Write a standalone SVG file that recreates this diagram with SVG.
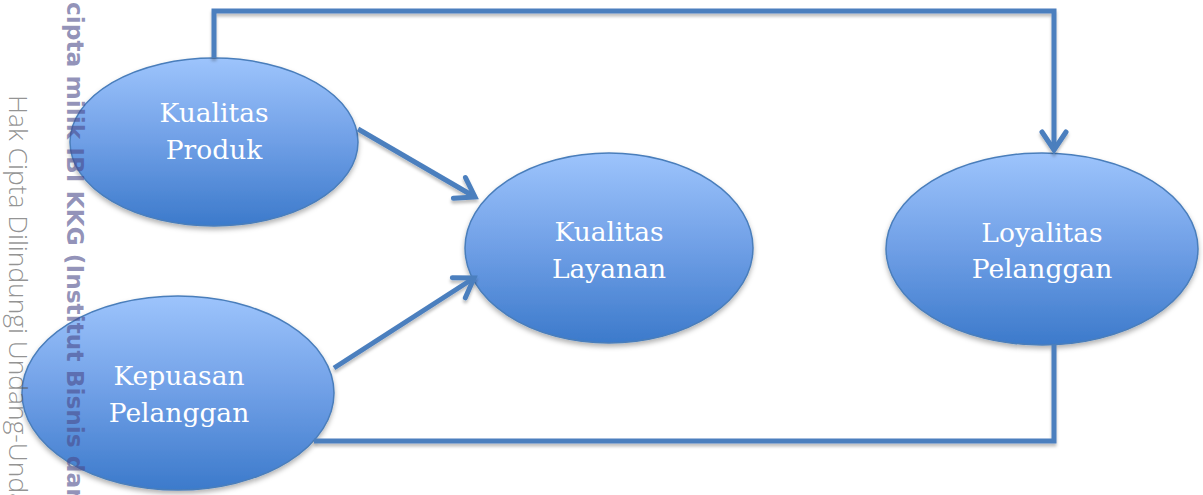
<svg xmlns="http://www.w3.org/2000/svg" width="1203" height="495" viewBox="0 0 1203 495">
<style>
.node{stroke:#4a7ebb;stroke-width:1.5;fill:url(#g);filter:url(#sh)}
.lbl{font-family:"DejaVu Serif","Liberation Serif",serif;font-size:26.5px;fill:#ffffff;text-anchor:middle}
.conn{fill:none;stroke:#4b7fbe;stroke-width:5;filter:url(#sh2)}
.wm1{font-family:"DejaVu Sans","Liberation Sans",sans-serif;font-weight:bold;font-size:23.3px;fill:#4a4a8a;fill-opacity:0.6}
.wm2{font-family:"Open Sans","Liberation Sans",sans-serif;font-weight:300;font-size:26.4px;fill:#555555;fill-opacity:0.65}
</style>
<defs>
<linearGradient id="g" x1="0" y1="0" x2="0" y2="1">
<stop offset="0" stop-color="#9dc4fc"/>
<stop offset="0.5" stop-color="#6f9fe6"/>
<stop offset="1" stop-color="#3c7acb"/>
</linearGradient>
<filter id="sh" x="-10%" y="-10%" width="120%" height="130%">
<feDropShadow dx="0" dy="3" stdDeviation="2.5" flood-color="#000" flood-opacity="0.3"/>
</filter>
<filter id="sh2" x="-5%" y="-5%" width="110%" height="120%">
<feDropShadow dx="0" dy="3" stdDeviation="1.5" flood-color="#000" flood-opacity="0.25"/>
</filter>
<marker id="arr" markerUnits="userSpaceOnUse" orient="auto" refX="0" refY="0" markerWidth="40" markerHeight="40" overflow="visible">
<path d="M -18,-12 L 0,0 L -18,12" fill="none" stroke="#4b7fbe" stroke-width="5" stroke-linecap="round" stroke-linejoin="miter"/>
</marker>
</defs>
<g id="n1"><ellipse class="node" cx="214" cy="142" rx="144" ry="84"/>
<text class="lbl" x="214" y="122">Kualitas</text><text class="lbl" x="214" y="159">Produk</text></g>
<g id="n2"><ellipse class="node" cx="178" cy="393" rx="156" ry="97"/>
<text class="lbl" x="179" y="385">Kepuasan</text><text class="lbl" x="179" y="422">Pelanggan</text></g>
<g id="n3"><ellipse class="node" cx="609" cy="248" rx="144" ry="95"/>
<text class="lbl" x="609" y="241">Kualitas</text><text class="lbl" x="609" y="278">Layanan</text></g>
<g id="n4"><ellipse class="node" cx="1042" cy="249" rx="156" ry="96"/>
<text class="lbl" x="1042" y="242">Loyalitas</text><text class="lbl" x="1042" y="278">Pelanggan</text></g>
<g id="connectors">
<path class="conn" d="M214,58 V11 H1054 V150" marker-end="url(#arr)"/>
<path class="conn" d="M214,226 V297"/>
<path class="conn" d="M358,129 L475,197" marker-end="url(#arr)"/>
<path class="conn" d="M334,368 L474,278" marker-end="url(#arr)"/>
<path class="conn" d="M753,250 H883" marker-end="url(#arr)"/>
<path class="conn" d="M314,441 H1054 V345"/>
</g>
<g id="watermark">
<text class="wm1" transform="translate(67,2) rotate(90)">cipta milik IBI KKG (Institut Bisnis dar</text>
<text class="wm2" transform="translate(9,95) rotate(90)">Hak Cipta Dilindungi Undang-Unda</text>
</g>
</svg>
